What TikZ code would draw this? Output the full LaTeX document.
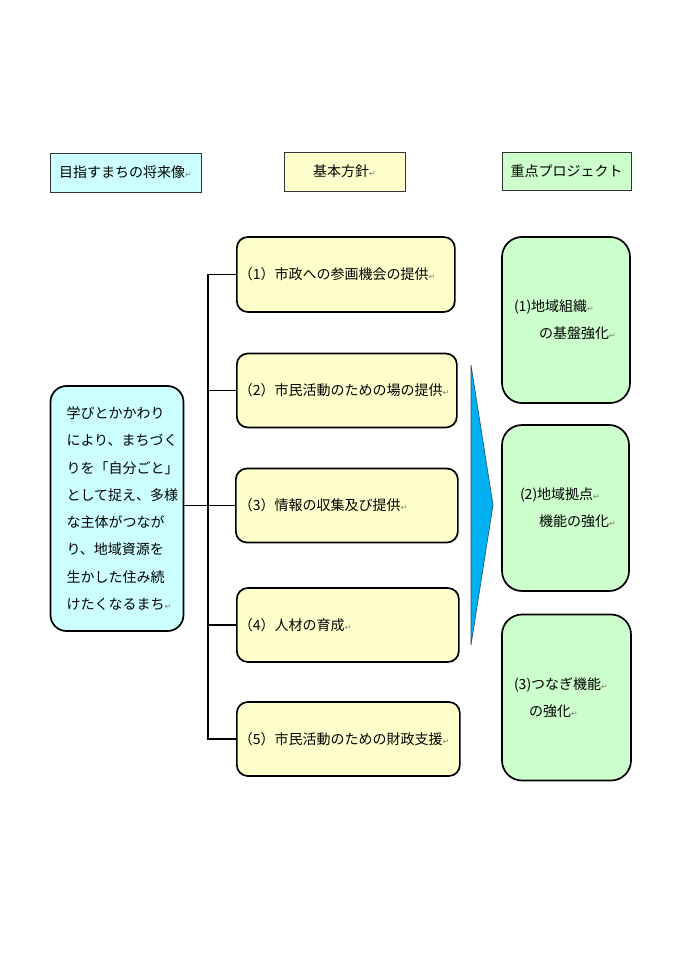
\documentclass[tikz,border=0pt]{standalone}
\usepackage{fontspec}
\setmainfont{Noto Sans CJK JP}
\newfontfamily\symf{DejaVu Sans}
\definecolor{cyanfill}{HTML}{CCFFFF}
\definecolor{yelfill}{HTML}{FFFFCC}
\definecolor{grnfill}{HTML}{CCFFCC}
\definecolor{arrowblue}{HTML}{00B0F0}
\definecolor{arrowedge}{HTML}{1F4E79}
\newcommand\pmark{{\symf\fontsize{8}{8}\selectfont\color{black!50}↵}}
\tikzset{
  hdr/.style={draw=black!80, line width=0.8pt, inner sep=0pt, font=\fontsize{14}{16}\selectfont},
  goalbox/.style={draw=black, line width=1.7pt, rounded corners=16pt, fill=cyanfill, inner sep=0pt},
  polbox/.style={draw=black, line width=1.7pt, rounded corners=11pt, fill=yelfill, inner sep=0pt, anchor=west},
  projbox/.style={draw=black, line width=1.7pt, rounded corners=20pt, fill=grnfill, inner sep=0pt, minimum height=166pt},
  conn/.style={line width=1.8pt, line cap=rect},
}
\begin{document}
\begin{tikzpicture}[x=1pt,y=-1pt]
\useasboundingbox[fill=white] (0,0) rectangle (690,976);

% headers
\node[hdr, fill=cyanfill, minimum width=151pt, minimum height=39pt] (h1) at (125.5,172.5) {目指すまちの将来像\pmark};
\node[hdr, fill=yelfill, minimum width=121pt, minimum height=39pt] (h2) at (344.5,171.5) {基本方針\pmark};
\node[hdr, fill=grnfill, minimum width=129pt, minimum height=38pt] (h3) at (566.5,171) {重点プロジェクト};

% goal box
\node[goalbox, minimum width=133pt, minimum height=245pt] (goal) at (117,508.5)
  {\parbox[c]{133pt}{\raggedright\leftskip=16pt\fontsize{14}{27.3}\selectfont
   学びとかかわり\\
   により、まちづく\\
   りを「自分ごと」\\
   として捉え、多様\\
   な主体がつなが\\
   り、地域資源を\\
   生かした住み続\\
   けたくなるまち\pmark}};

% policy boxes
\node[polbox, minimum width=218pt, minimum height=75pt] (p1) at (236,274.5)
  {\parbox{218pt}{\fontsize{14}{16}\selectfont\hspace*{2pt}（1）市政への参画機会の提供\pmark}};
\node[polbox, minimum width=220pt, minimum height=74pt] (p2) at (236,390.5)
  {\parbox{220pt}{\fontsize{14}{16}\selectfont\hspace*{2pt}（2）市民活動のための場の提供\pmark}};
\node[polbox, minimum width=222pt, minimum height=74pt] (p3) at (235,505.5)
  {\parbox{222pt}{\fontsize{14}{16}\selectfont\hspace*{3pt}（3）情報の収集及び提供\pmark}};
\node[polbox, minimum width=222pt, minimum height=74pt] (p4) at (236,625)
  {\parbox{222pt}{\fontsize{14}{16}\selectfont\hspace*{2pt}（4）人材の育成\pmark}};
\node[polbox, minimum width=223pt, minimum height=74pt] (p5) at (236,739)
  {\parbox{223pt}{\fontsize{14}{16}\selectfont\hspace*{2pt}（5）市民活動のための財政支援\pmark}};

% project boxes
\node[projbox, minimum width=128pt] (g1) at (566,320)
  {\parbox[c]{128pt}{\raggedright\fontsize{14}{27}\selectfont
   \hspace*{12pt}(1)地域組織\pmark\\
   \hspace*{37pt}の基盤強化\pmark}};
\node[projbox, minimum width=127pt] (g2) at (565.5,508)
  {\parbox[c]{127pt}{\raggedright\fontsize{14}{27}\selectfont
   \hspace*{18pt}(2)地域拠点\pmark\\
   \hspace*{37pt}機能の強化\pmark}};
\node[projbox, minimum width=129pt] (g3) at (566.5,697.5)
  {\parbox[c]{129pt}{\raggedright\fontsize{14}{27}\selectfont
   \hspace*{12pt}(3)つなぎ機能\pmark\\
   \hspace*{27pt}の強化\pmark}};

% connectors
\coordinate (trunk) at (208,0);
\draw[conn] (p1.west) -- (p1.west -| trunk) -- (p5.west -| trunk) -- (p5.west);
\draw[conn] (p2.west -| trunk) -- (p2.west);
\draw[conn] (p4.west -| trunk) -- (p4.west);
\draw[conn] (p3.west -| goal.east) -- (p3.west);

% big arrow
\draw[fill=arrowblue, draw=arrowedge, line width=0.6pt, line join=miter]
  (471,365) -- (493,505) -- (471,645) -- cycle;
\end{tikzpicture}
\end{document}
